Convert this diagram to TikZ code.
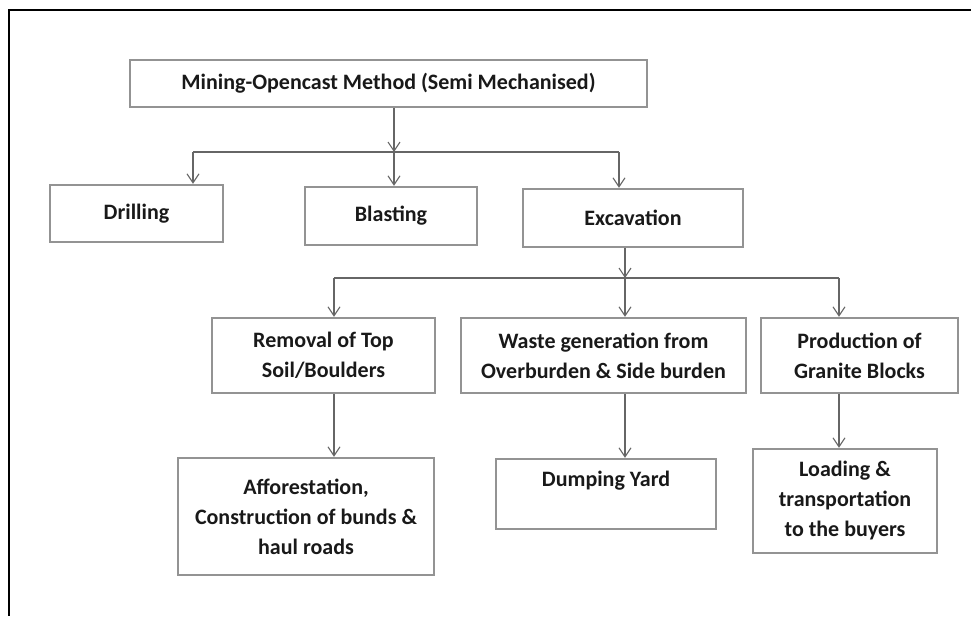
\documentclass[tikz,border=0pt]{standalone}
\usepackage{fontspec}
\setmainfont{Carlito}
\usepackage{tikz}
\usetikzlibrary{arrows.meta,positioning}

\begin{document}
\begin{tikzpicture}[x=1pt,y=-1pt,
  blk/.style={draw=gray!85,line width=2.4pt,fill=white,align=center,inner sep=0pt,
    text=black!90,font=\fontsize{22}{30}\selectfont\bfseries},
  conn/.style={draw=black!60,line width=1.1pt},
  arr/.style={conn,-{Straight Barb[length=9pt,width=12pt]}}]
\useasboundingbox (0,0) rectangle (971,616);
\draw[line width=2.8pt] (8,10)--(971,10);
\draw[line width=2.8pt] (9,9)--(9,616);
% first level
\node[blk,minimum width=517pt,minimum height=47pt] (mining) at (388.5,83.5) {Mining-Opencast Method (Semi Mechanised)};
\node[blk,minimum width=173pt,minimum height=57pt] (drill) at (136.5,213.5) {Drilling};
\node[blk,minimum width=172pt,minimum height=58pt] (blast) at (391,216) {Blasting};
\node[blk,minimum width=220pt,minimum height=58pt] (excav) at (633,218) {Excavation};
% second level
\node[blk,minimum width=223pt,minimum height=75pt] (removal) at (323.5,355.5) {Removal of Top\\Soil/Boulders};
\node[blk,minimum width=285pt,minimum height=75pt] (waste) at (603.5,355.5) {Waste generation from\\Overburden \& Side burden};
\node[blk,minimum width=197pt,minimum height=75pt] (prod) at (859.5,355.5) {Production of\\Granite Blocks};
% third level
\node[blk,minimum width=256pt,minimum height=117pt] (affor) at (306,516.5) {Afforestation,\\Construction of bunds \&\\haul roads};
\node[blk,minimum width=220pt,minimum height=70pt] (dump) at (606,494) {Dumping Yard\\\mbox{}};
\node[blk,minimum width=184pt,minimum height=104pt] (load) at (845,501) {Loading \&\\transportation\\to the buyers};
% junctions
\coordinate (ja) at (394,152);
\coordinate (jl) at (193,152);
\coordinate (jr) at (619,152);
\coordinate (jb) at (625,278);
\coordinate (kl) at (334,278);
\coordinate (kr) at (839,278);
% connectors
\draw[arr] (mining.south -| ja) -- (ja);
\draw[arr] (ja) -- (ja |- blast.north);
\draw[conn] (jl) -- (jr);
\draw[arr] (jl) -- (jl |- drill.north);
\draw[arr] (jr) -- (jr |- excav.north);
\draw[arr] (excav.south -| jb) -- (jb);
\draw[arr] (jb) -- (jb |- waste.north);
\draw[conn] (kl) -- (kr);
\draw[arr] (kl) -- (kl |- removal.north);
\draw[arr] (kr) -- (kr |- prod.north);
\draw[arr] (removal.south -| kl) -- (kl |- affor.north);
\draw[arr] (waste.south -| jb) -- (jb |- dump.north);
\draw[arr] (prod.south -| kr) -- (kr |- load.north);
\end{tikzpicture}
\end{document}
